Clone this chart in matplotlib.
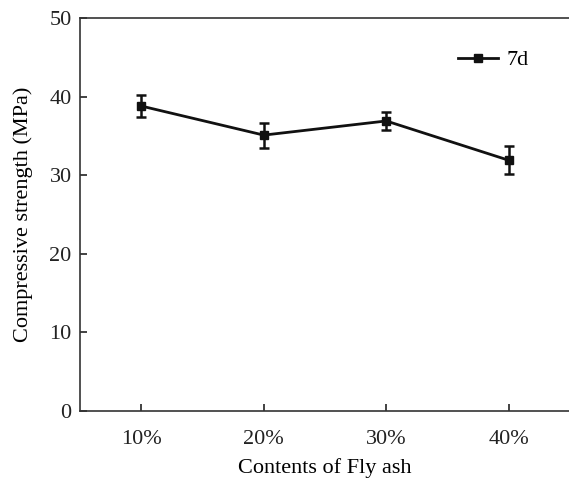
import matplotlib.pyplot as plt
import numpy as np
from matplotlib.lines import Line2D

plt.rcParams['font.family'] = ['Liberation Serif', 'DejaVu Serif']

contents = ['10%', '20%', '30%', '40%']
strength_7d = [38.8, 35.1, 36.9, 31.9]
err_7d = [1.4, 1.6, 1.2, 1.8]

fig = plt.figure(figsize=(5.69, 4.78), dpi=100)
ax = fig.add_axes([80 / 569, 1 - 411 / 478, 490 / 569, (411 - 18) / 478])

x = np.arange(1, len(contents) + 1)
ax.errorbar(x, strength_7d, yerr=err_7d, color='#111111', lw=2,
            marker='s', ms=6, capsize=3.5, capthick=1.8, elinewidth=1.8)

ax.set_xlim(0.5, 4.5)
ax.set_ylim(0, 50)
ax.set_xticks(x)
ax.set_xticklabels(contents)
ax.set_yticks(range(0, 51, 10))
ax.tick_params(direction='in', length=5, width=1.2, labelsize=16, colors='#222222')
ax.tick_params(axis='x', pad=14)
ax.tick_params(axis='y', pad=6)
for s in ['left', 'bottom', 'top']:
    ax.spines[s].set_linewidth(1.2)
    ax.spines[s].set_color('#333333')
ax.spines['right'].set_visible(False)

ax.set_xlabel('Contents of Fly ash', fontsize=16, labelpad=6)
ax.set_ylabel('Compressive strength (MPa)', fontsize=16, labelpad=12)

handle = Line2D([], [], color='#111111', lw=2, marker='s', ms=6)
ax.legend([handle], ['7d'], loc='upper right', bbox_to_anchor=(0.957, 0.97),
          frameon=False, fontsize=16, handlelength=1.8, handletextpad=0.4)

fig.savefig('out.png', dpi=100)
